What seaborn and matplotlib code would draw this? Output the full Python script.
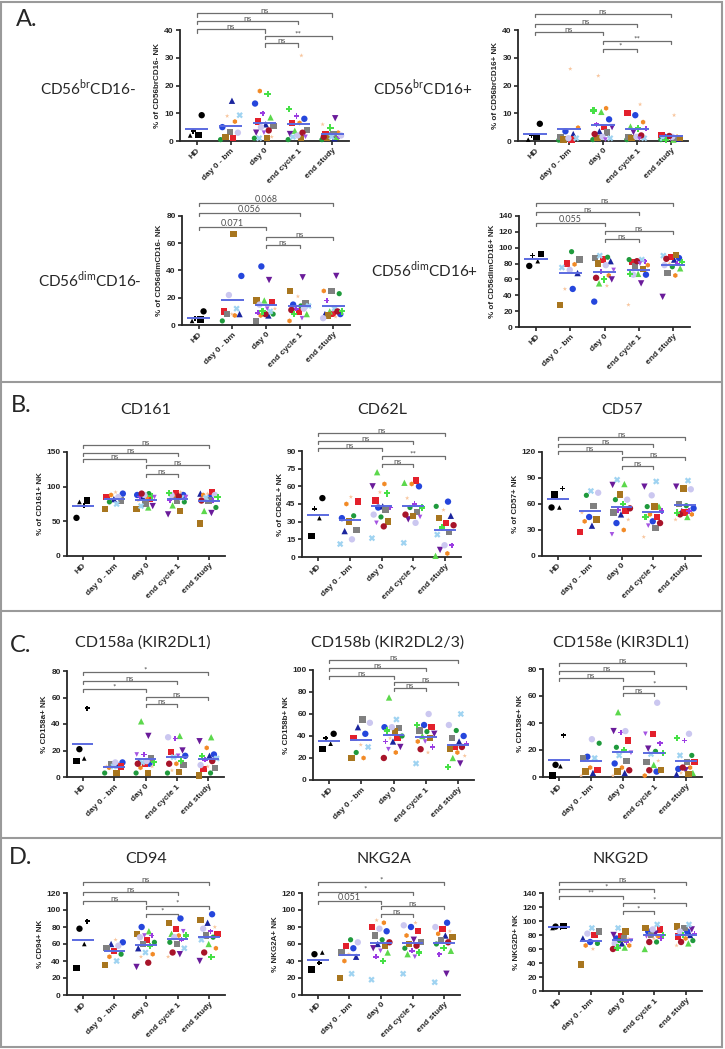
#!/usr/bin/env python3
#===============================================================================
# NK cell subsets / receptors over treatment - scatter panels
#===============================================================================

# Imports ======================================================================

import numpy as np
import pandas as pd
import seaborn as sns
import matplotlib.pyplot as plt
from matplotlib.lines import Line2D
from matplotlib.patches import Rectangle


# Data =========================================================================

groups = ['HD', 'day 0 - bm', 'day 0', 'end cycle 1', 'end study']
comparisons = [(2, 3), (2, 4), (0, 2), (0, 3), (0, 4)]

hd_ids = ['hd_o', 'hd_s', 'hd_^', 'hd_P']
bm_ids = ['blue_o', 'navy_^', 'red_s', 'green_o', 'orange_D', 'gray_s',
          'brown_s', 'lblue_X', 'lav_o', 'peach_*']
d0_ids = ['blue_o', 'navy_^', 'red_s', 'green_o', 'lime_^', 'orange_D',
          'purple_v', 'violet_P', 'gray_s', 'brown_s', 'lblue_X', 'lav_o',
          'dred_o', 'peach_*', 'lgreen_P', 'violet_v']
c1_ids = ['blue_o', 'red_s', 'green_o', 'lime_^', 'orange_D', 'purple_v',
          'violet_P', 'gray_s', 'brown_s', 'lblue_X', 'lav_o', 'dred_o',
          'peach_*', 'lgreen_P', 'violet_v']
st_ids = ['blue_o', 'navy_^', 'red_s', 'green_o', 'lime_^', 'orange_D',
          'purple_v', 'violet_P', 'gray_s', 'brown_s', 'lblue_X', 'lav_o',
          'dred_o', 'peach_*', 'lgreen_P']
group_ids = [hd_ids, bm_ids, d0_ids, c1_ids, st_ids]

# values per group, same order as the id lists above
cd56br_cd16neg = [
    [9.3, 2.2, 2.0, 3.5],
    [5, 14.5, 1, 0.5, 7, 3.3, 1.5, 9.3, 3, 9],
    [13.5, 6, 7, 1, 8.5, 18, 3, 10, 5.5, 1, 1, 5, 3.8, 1.5, 17, 3],
    [8, 6.5, 0.5, 3.7, 6.5, 2.5, 9, 4, 1, 1.5, 2, 3, 30.8, 11.5, 1.5],
    [2, 1, 2.5, 0.5, 1.5, 3, 8.2, 1.5, 2.5, 1, 1.5, 2, 1.5, 6, 4.8],
]
cd56br_cd16pos = [
    [6.2, 1.5, 0.5, 2.0],
    [3.5, 2.5, 0.5, 0.3, 4.8, 1.5, 0.5, 1, 1, 26],
    [7.8, 3.5, 5, 0.5, 10.5, 11.8, 5, 6, 3, 1, 1, 1.5, 2.5, 23.5, 11, 0.5],
    [9.3, 10.2, 0.5, 5.2, 6.8, 3.2, 4.5, 1.5, 1, 1, 1.5, 2, 13.2, 4.5, 0.8],
    [1.5, 0.8, 2.2, 0.5, 0.5, 1.5, 1, 1, 1, 1, 1, 1.5, 1.8, 9.3, 0.5],
]
cd56dim_cd16neg = [
    [10, 4, 3, 5],
    [36, 8, 10, 3, 7, 8, 67, 12, 22, 8],
    [43, 7, 17, 8, 18, 7, 33, 9, 3, 18, 10, 15, 8, 12, 10, 12],
    [15, 10, 14, 8, 3, 35, 12, 16, 25, 14, 12, 11, 21, 8, 5],
    [8, 8, 8, 23, 10, 25, 36, 18, 25, 7, 12, 5, 10, 6, 10],
]
cd56dim_cd16pos = [
    [77, 92, 83, 90],
    [48, 68, 80, 95, 79, 85, 28, 75, 72, 48],
    [32, 83, 85, 88, 55, 65, 60, 70, 87, 80, 90, 78, 62, 52, 60, 72],
    [66, 82, 85, 67, 78, 55, 83, 77, 73, 85, 66, 83, 28, 67, 80],
    [87, 85, 88, 76, 74, 65, 38, 80, 68, 91, 90, 78, 86, 80, 82],
]
cd161 = [
    [55, 80, 78, 73],
    [90, 82, 85, 78, 88, 80, 68, 75, 85, 92],
    [88, 85, 82, 90, 70, 85, 72, 86, 75, 68, 72, 88, 90, 80, 86, 85],
    [88, 90, 78, 73, 85, 60, 80, 80, 65, 84, 88, 86, 92, 91, 85],
    [86, 90, 92, 70, 65, 88, 62, 80, 80, 47, 84, 88, 80, 90, 85],
]
cd62l = [
    [50, 18, 33, 41],
    [33, 22, 47, 35, 45, 23, 30, 11, 15, 51],
    [42, 43, 48, 34, 72, 62, 60, 42, 40, 30, 16, 36, 26, 55, 54, 29],
    [60, 65, 42, 63, 62, 32, 45, 38, 35, 12, 29, 36, 50, 42, 34],
    [47, 35, 29, 43, 1, 3, 6, 10, 21, 33, 19, 10, 27, 40, 25],
]
cd57 = [
    [56, 71, 56, 78],
    [45, 35, 28, 70, 40, 58, 42, 75, 73, 50],
    [38, 48, 52, 65, 83, 30, 82, 53, 50, 71, 88, 65, 55, 42, 60, 25],
    [40, 45, 57, 57, 48, 80, 52, 32, 57, 86, 70, 38, 22, 45, 35],
    [55, 52, 50, 58, 45, 48, 80, 52, 60, 78, 87, 77, 48, 42, 50],
]
cd158a = [
    [21, 12, 14, 52],
    [11, 9, 8, 3, 7, 10, 3, 8, 11, 8],
    [10, 12, 10, 3, 42, 7, 31, 17, 14, 3, 11, 12, 10, 8, 11, 17],
    [16, 19, 3, 31, 10, 20, 29, 9, 4, 15, 30, 10, 5, 12, 16],
    [17, 16, 6, 3, 30, 22, 27, 13, 7, 1, 14, 9, 12, 8, 16],
]
cd158b = [
    [42, 28, 33, 38],
    [42, 48, 38, 25, 20, 55, 20, 30, 52, 32],
    [48, 35, 38, 40, 75, 25, 30, 35, 47, 44, 55, 48, 20, 38, 45, 28],
    [50, 48, 44, 40, 35, 42, 30, 45, 38, 15, 60, 28, 25, 50, 35],
    [40, 35, 30, 45, 20, 25, 15, 33, 38, 28, 60, 50, 30, 22, 12],
]
cd158e = [
    [9, 1, 8, 31],
    [15, 3, 5, 25, 7, 14, 4, 14, 28, 1],
    [10, 3, 27, 22, 48, 7, 34, 33, 12, 4, 16, 34, 5, 1, 20, 18],
    [4, 32, 19, 9, 1, 21, 25, 11, 5, 17, 55, 5, 12, 18, 32],
    [6, 2, 11, 16, 3, 7, 5, 27, 11, 2, 16, 32, 7, 3, 29],
]
cd94 = [
    [78, 32, 60, 87],
    [62, 60, 52, 48, 45, 55, 35, 40, 58, 65],
    [80, 55, 65, 62, 75, 48, 33, 70, 60, 72, 50, 68, 38, 45, 58, 70],
    [90, 78, 62, 72, 70, 48, 65, 60, 85, 55, 68, 50, 45, 70, 75],
    [95, 85, 72, 68, 60, 55, 40, 75, 70, 88, 65, 78, 50, 80, 45],
]
nkg2a = [
    [48, 30, 50, 38],
    [55, 45, 58, 65, 40, 50, 20, 25, 62, 48],
    [75, 60, 80, 65, 50, 85, 55, 45, 70, 58, 18, 78, 62, 88, 40, 52],
    [80, 75, 55, 48, 70, 65, 52, 62, 60, 25, 82, 58, 85, 50, 45],
    [85, 70, 78, 60, 52, 72, 25, 48, 65, 68, 15, 80, 62, 75, 55],
]
nkg2d = [
    [92, 93, 90, 91],
    [70, 75, 80, 68, 65, 85, 38, 90, 82, 60],
    [75, 68, 78, 72, 62, 65, 80, 70, 75, 85, 90, 68, 60, 75, 62, 72],
    [85, 88, 70, 60, 78, 82, 75, 80, 90, 95, 88, 70, 75, 80, 78],
    [85, 80, 78, 72, 68, 75, 88, 82, 90, 92, 95, 85, 70, 65, 80],
]

# significance labels, in the order of `comparisons`
sig_cd56br_cd16neg = ['ns', '**', 'ns', 'ns', 'ns']
sig_cd56br_cd16pos = ['*', '**', 'ns', 'ns', 'ns']
sig_cd56dim_cd16neg = ['ns', 'ns', '0.071', '0.056', '0.068']
sig_cd56dim_cd16pos = ['ns', 'ns', '0.055', 'ns', 'ns']
sig_cd161 = ['ns', 'ns', 'ns', 'ns', 'ns']
sig_cd62l = ['ns', '**', 'ns', 'ns', 'ns']
sig_cd57 = ['ns', 'ns', 'ns', 'ns', 'ns']
sig_cd158a = ['ns', 'ns', '*', 'ns', '*']
sig_cd158b = ['ns', 'ns', 'ns', 'ns', 'ns']
sig_cd158e = ['ns', '*', 'ns', 'ns', 'ns']
sig_cd94 = ['*', '*', 'ns', 'ns', 'ns']
sig_nkg2a = ['ns', 'ns', '0.051', '*', '*']
sig_nkg2d = ['*', '*', '**', '*', 'ns']


# Style ========================================================================

colors = {
    'hd_o': 'black', 'hd_s': 'black', 'hd_^': 'black', 'hd_P': 'black',
    'blue_o': '#2546dc', 'navy_^': '#1b259e', 'red_s': '#e3202c',
    'green_o': '#1f9a3c', 'lime_^': '#5cd84c', 'orange_D': '#f28a26',
    'purple_v': '#6a1b9a', 'violet_P': '#9b3ce2', 'gray_s': '#808080',
    'brown_s': '#a8761f', 'lblue_X': '#9fd3f1', 'lav_o': '#cbc7f0',
    'dred_o': '#a8142a', 'peach_*': '#f8c59c', 'lgreen_P': '#46e046',
    'violet_v': '#a454e2',
}
markers = {
    'hd_o': 'o', 'hd_s': 's', 'hd_^': '^', 'hd_P': 'P',
    'blue_o': 'o', 'navy_^': '^', 'red_s': 's', 'green_o': 'o',
    'lime_^': '^', 'orange_D': 'h', 'purple_v': 'v', 'violet_P': 'P',
    'gray_s': 's', 'brown_s': 's', 'lblue_X': 'X', 'lav_o': 'o',
    'dred_o': 'o', 'peach_*': '*', 'lgreen_P': 'P', 'violet_v': 'v',
}
sizes = {k: 21 for k in colors}
sizes.update({'hd_^': 11, 'hd_P': 13, 'orange_D': 13, 'peach_*': 11,
              'violet_P': 14, 'violet_v': 11, 'green_o': 14})

W, H = 725, 1049
MEAN_COLOR = '#5b6ae0'
BRACKET_COLOR = '#6e6e6e'

# values, sig, ylabel, ymax, ystep, axes px (left, top, right, bottom),
# bracket heights as fraction of ymax (same order as comparisons)
panels = [
    (cd56br_cd16neg, sig_cd56br_cd16neg, '% of CD56brCD16- NK', 40, 10,
     (180, 30, 349, 141), [0.88, 0.946, 1.006, 1.084, 1.15]),
    (cd56br_cd16pos, sig_cd56br_cd16pos, '% of CD56brCD16+ NK', 40, 10,
     (518, 30, 688, 141), [0.83, 0.90, 0.982, 1.054, 1.144]),
    (cd56dim_cd16neg, sig_cd56dim_cd16neg, '% of CD56dimCD16- NK', 80, 20,
     (182, 216, 350, 325), [0.734, 0.807, 0.897, 1.03, 1.12]),
    (cd56dim_cd16pos, sig_cd56dim_cd16pos, '% of CD56dimCD16+ NK', 140, 20,
     (519, 216, 690, 327), [0.793, 0.865, 0.937, 1.036, 1.117]),
    (cd161, sig_cd161, '% of CD161+ NK', 150, 50,
     (67, 452, 225, 556), [0.79, 0.875, 0.93, 0.99, 1.07]),
    (cd62l, sig_cd62l, '% of CD62L+ NK', 90, 15,
     (302, 451, 461, 557), [0.877, 0.953, 1.028, 1.094, 1.17]),
    (cd57, sig_cd57, '% of CD57+ NK', 120, 30,
     (542, 452, 701, 556), [0.865, 0.952, 1.01, 1.077, 1.144]),
    (cd158a, sig_cd158a, '% CD158a+ NK', 80, 20,
     (67, 671, 224, 777), [0.69, 0.755, 0.83, 0.906, 0.99]),
    (cd158b, sig_cd158b, '% CD158b+ NK', 100, 20,
     (313, 670, 474, 780), [0.836, 0.89, 0.945, 1.02, 1.09]),
    (cd158e, sig_cd158e, '% CD158e+ NK', 80, 20,
     (543, 669, 702, 777), [0.778, 0.843, 0.917, 0.98, 1.055]),
    (cd94, sig_cd94, '% CD94+ NK', 120, 20,
     (67, 893, 225, 995), [0.795, 0.873, 0.922, 1.01, 1.108]),
    (nkg2a, sig_nkg2a, '% NKG2A+ NK', 120, 20,
     (302, 893, 460, 995), [0.795, 0.873, 0.922, 1.01, 1.108]),
    (nkg2d, sig_nkg2d, '% NKG2D+ NK', 140, 20,
     (543, 893, 702, 991), [0.816, 0.898, 0.97, 1.04, 1.11]),
]

titles = [
    ('CD161', 146, 410), ('CD62L', 382, 410), ('CD57', 622, 410),
    ('CD158a (KIR2DL1)', 143, 643), ('CD158b (KIR2DL2/3)', 388, 643),
    ('CD158e (KIR3DL1)', 621, 643),
    ('CD94', 146, 859), ('NKG2A', 384, 859), ('NKG2D', 621, 859),
]
row_labels = [
    ('CD56$^{\\mathrm{br}}$CD16-', 88, 88),
    ('CD56$^{\\mathrm{br}}$CD16+', 423, 88),
    ('CD56$^{\\mathrm{dim}}$CD16-', 90, 280),
    ('CD56$^{\\mathrm{dim}}$CD16+', 425, 270),
]
letters = [('A.', 27, 20), ('B.', 21, 405), ('C.', 21, 645), ('D.', 21, 858)]
dividers = [382, 611, 838]


# Functions ====================================================================

def spread(vals):
    # GraphPad-like horizontal spreading: neighbours in value get split apart
    width = min(0.6, 0.1 * len(vals))
    order = np.argsort(vals)
    offs = np.zeros(len(vals))
    offs[order] = ((np.arange(len(vals)) * 0.618) % 1.0 - 0.5) * width
    return offs


def draw_panel(fig, values, sig, ylabel, ymax, ystep, box, levels):
    l, t, r, b = box
    ax = fig.add_axes([l / W, 1 - b / H, (r - l) / W, (b - t) / H])
    rows = []
    for g, (ids, vals) in enumerate(zip(group_ids, values)):
        offs = spread(np.asarray(vals, float))
        for pid, v, o in zip(ids, vals, offs):
            rows.append({'x': g + o, 'y': v, 'pid': pid})
    df = pd.DataFrame(rows)
    sns.scatterplot(
        data=df, x='x', y='y', hue='pid', style='pid', size='pid',
        palette=colors, markers=markers, sizes=sizes, linewidth=0,
        legend=False, ax=ax, zorder=3, clip_on=False
    )
    for g, vals in enumerate(values):
        ax.hlines(np.mean(vals), g - 0.34, g + 0.34, color=MEAN_COLOR,
                  lw=1.4, zorder=4)
    ax.set_xlim(-0.5, 4.5)
    ax.set_ylim(0, ymax)
    ax.set_xticks(range(5))
    ax.set_xticklabels(groups, rotation=45, ha='right',
                       rotation_mode='anchor')
    ax.set_yticks(np.arange(0, ymax + 0.1, ystep))
    ax.tick_params(length=3, width=1.2, labelsize=6, pad=1.5)
    for lab in ax.get_xticklabels() + ax.get_yticklabels():
        lab.set_fontweight('bold')
    ax.set_xlabel('')
    ax.set_ylabel(ylabel, fontsize=5.8, fontweight='bold', labelpad=2)
    sns.despine(ax=ax)
    for s in ('left', 'bottom'):
        ax.spines[s].set_linewidth(1.3)
    tick = 0.03 * ymax
    for (i, j), lab, lev in zip(comparisons, sig, levels):
        y = lev * ymax
        ax.plot([i, i, j, j], [y - tick, y, y, y - tick], color=BRACKET_COLOR,
                lw=0.9, clip_on=False)
        ax.text((i + j) / 2, y - 0.01 * ymax, lab, ha='center', va='bottom',
                fontsize=6.5 if lab[0].isdigit() else 6,
                color='#505050', family='Lato')
    return ax


def main():
    sns.set_style('ticks')
    plt.rcParams['font.family'] = ['Liberation Sans', 'DejaVu Sans']
    plt.rcParams['mathtext.fontset'] = 'custom'
    plt.rcParams['mathtext.rm'] = 'Lato'
    fig = plt.figure(figsize=(W / 100, H / 100), dpi=100)

    for p in panels:
        draw_panel(fig, *p)

    for txt, x, y in titles:
        fig.text(x / W, 1 - y / H, txt, ha='center', va='center',
                 fontsize=11.5, family='Lato')
    for txt, x, y in row_labels:
        fig.text(x / W, 1 - y / H, txt, ha='center', va='center',
                 fontsize=11, family='Lato')
    for txt, x, y in letters:
        fig.text(x / W, 1 - y / H, txt, ha='center', va='center',
                 fontsize=17, family='Lato')

    for y in dividers:
        fig.add_artist(Line2D([0.002, 0.996], [1 - y / H] * 2,
                              transform=fig.transFigure, color='#9a9a9a',
                              lw=1.5))
    fig.add_artist(Rectangle((0.002, 0.002), 0.994, 0.996, fill=False,
                             transform=fig.transFigure, ec='#9a9a9a', lw=1.5))
    fig.savefig('out.png', dpi=100)


# Execute ======================================================================

if __name__ == '__main__':
    main()
